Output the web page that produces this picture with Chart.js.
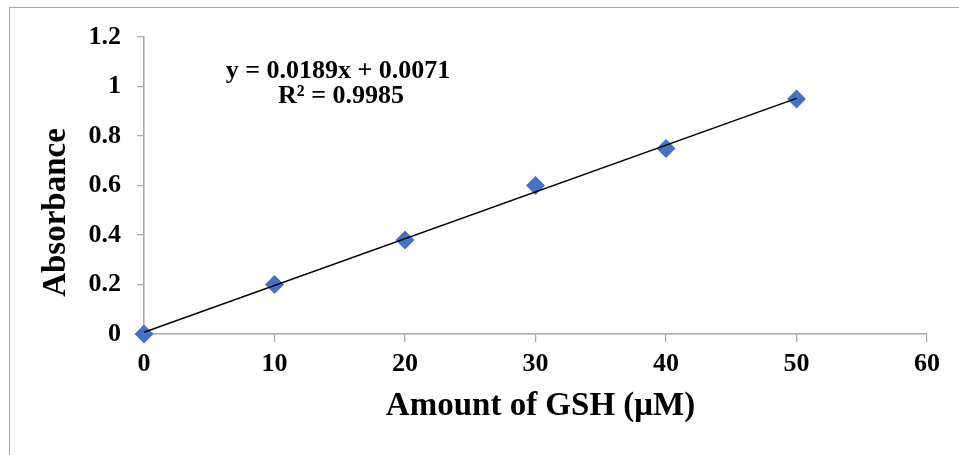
<!DOCTYPE html>
<html>
<head>
<meta charset="utf-8">
<script src="https://cdn.jsdelivr.net/npm/chart.js@4/dist/chart.umd.min.js"></script>
<style>
  html, body { margin: 0; padding: 0; background: #ffffff; }
  #wrap { position: relative; width: 959px; height: 455px; }
</style>
</head>
<body>
<div id="wrap"><canvas id="c" width="959" height="455"></canvas></div>
<script>
// GSH standard curve: absorbance against amount of GSH
const gshAmounts = [0, 10, 20, 30, 40, 50];
const absorbance = [0, 0.2, 0.38, 0.6, 0.75, 0.95];

// Linear fit reported on the chart
const fitSlope = 0.0189;
const fitIntercept = 0.0071;
const fitLabel = ['y = 0.0189x + 0.0071', 'R² = 0.9985'];

const xTickLabels = ['0', '10', '20', '30', '40', '50', '60'];
const yTickLabels = ['0', '0.2', '0.4', '0.6', '0.8', '1', '1.2'];

const xTitle = 'Amount of GSH (μM)';
const yTitle = 'Absorbance';

const FONT = '"Liberation Serif", "Times New Roman", serif';
const AXIS_GREY = '#a6a6a6';

const points = gshAmounts.map((x, i) => ({ x: x, y: absorbance[i] }));
const fitEnds = [gshAmounts[0], gshAmounts[gshAmounts.length - 1]];
const fitLine = fitEnds.map(x => ({ x: x, y: fitSlope * x + fitIntercept }));

// Frame lines, axis titles and the fit equation
const decorations = {
  id: 'decorations',
  beforeDraw(chart) {
    const ctx = chart.ctx;
    ctx.save();
    ctx.fillStyle = '#ffffff';
    ctx.fillRect(0, 0, chart.width, chart.height);
    ctx.strokeStyle = AXIS_GREY;
    ctx.lineWidth = 1;
    ctx.beginPath();
    ctx.moveTo(9, 7.5);
    ctx.lineTo(chart.width, 7.5);
    ctx.moveTo(9.5, 7);
    ctx.lineTo(9.5, chart.height);
    ctx.stroke();
    ctx.restore();
  },
  afterDraw(chart) {
    const ctx = chart.ctx;
    const area = chart.chartArea;
    ctx.save();
    ctx.fillStyle = '#000000';

    // x-axis title
    ctx.font = 'bold 33px ' + FONT;
    ctx.textAlign = 'center';
    ctx.textBaseline = 'alphabetic';
    ctx.fillText(xTitle, (area.left + area.right) / 2 + 5, 415);

    // y-axis title
    ctx.save();
    ctx.translate(65, 212.5);
    ctx.rotate(-Math.PI / 2);
    ctx.fillText(yTitle, 0, 0);
    ctx.restore();

    // fit equation
    ctx.font = 'bold 26px ' + FONT;
    ctx.fillText(fitLabel[0], area.left + 194, 78);
    ctx.fillText(fitLabel[1], area.left + 197, 103);
    ctx.restore();
  }
};

new Chart(document.getElementById('c'), {
  type: 'scatter',
  data: {
    datasets: [
      {
        type: 'line',
        label: 'Linear fit',
        data: fitLine,
        borderColor: '#000000',
        borderWidth: 1.5,
        pointRadius: 0,
        fill: false,
        clip: false,
        order: 0
      },
      {
        label: 'Absorbance',
        data: points,
        pointStyle: 'rectRot',
        pointRadius: 9.5,
        pointHoverRadius: 9.5,
        backgroundColor: '#4472c4',
        borderColor: '#4472c4',
        borderWidth: 0,
        clip: false,
        order: 1
      }
    ]
  },
  options: {
    responsive: false,
    animation: false,
    devicePixelRatio: 1,
    layout: { padding: { left: 0, top: 37, right: 32, bottom: 0 } },
    plugins: {
      legend: { display: false },
      tooltip: { enabled: false }
    },
    scales: {
      x: {
        type: 'linear',
        min: 0,
        max: 60,
        afterFit(scale) { scale.height = 121; },
        ticks: {
          stepSize: 10,
          autoSkip: false,
          maxRotation: 0,
          padding: 7,
          color: '#000000',
          font: { family: FONT, size: 26, weight: 'bold' },
          callback: (v, i) => xTickLabels[i]
        },
        grid: {
          drawOnChartArea: false,
          drawTicks: true,
          tickLength: 8,
          color: AXIS_GREY,
          lineWidth: 1.2
        },
        border: { display: true, color: AXIS_GREY, width: 1.5 }
      },
      y: {
        type: 'linear',
        min: 0,
        max: 1.2,
        afterFit(scale) { scale.width = 144; },
        ticks: {
          stepSize: 0.2,
          autoSkip: false,
          padding: 16,
          color: '#000000',
          font: { family: FONT, size: 26, weight: 'bold' },
          callback: (v, i) => yTickLabels[i]
        },
        grid: {
          drawOnChartArea: false,
          drawTicks: true,
          tickLength: 7,
          color: AXIS_GREY,
          lineWidth: 1.2
        },
        border: { display: true, color: AXIS_GREY, width: 1.5 }
      }
    }
  },
  plugins: [decorations]
});
</script>
</body>
</html>
